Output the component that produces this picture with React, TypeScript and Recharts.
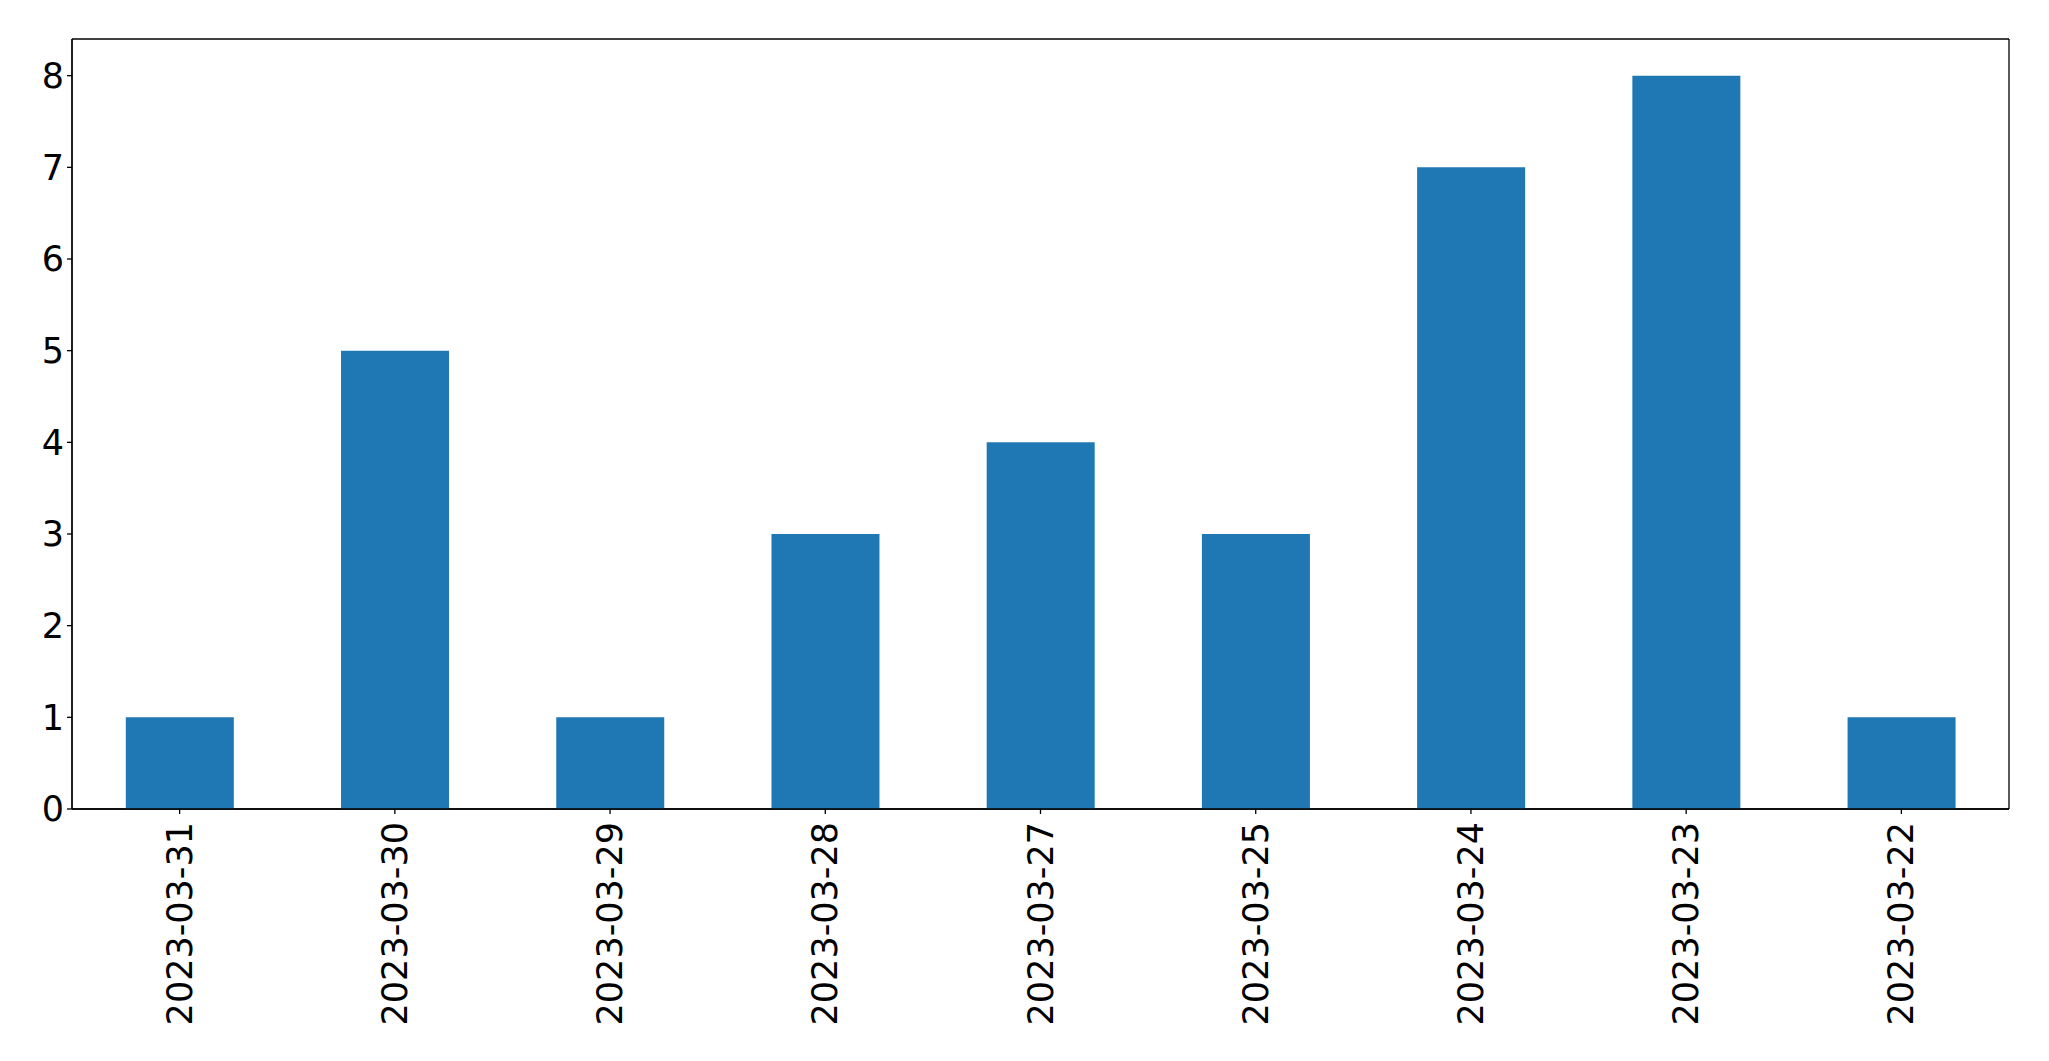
import React from "react";
import { BarChart, Bar, XAxis, YAxis, CartesianGrid } from "recharts";

const dates = [
  "2023-03-31",
  "2023-03-30",
  "2023-03-29",
  "2023-03-28",
  "2023-03-27",
  "2023-03-25",
  "2023-03-24",
  "2023-03-23",
  "2023-03-22",
];
const counts = [1, 5, 1, 3, 4, 3, 7, 8, 1];
const yTicks = [0, 1, 2, 3, 4, 5, 6, 7, 8];

const data = dates.map((d, i) => ({ date: d, count: counts[i] }));

const FONT = "DejaVu Sans";

const DateTick = (props: any) => {
  const { x, y, payload } = props;
  return (
    <text
      x={x}
      y={y}
      transform={`rotate(-90, ${x}, ${y})`}
      textAnchor="end"
      dominantBaseline="central"
      fontFamily={FONT}
      fontSize={35}
      fill="#000"
    >
      {payload.value}
    </text>
  );
};

// frame lines along the plot area's edges
const frameRows = ({ offset }: any) => [offset.top, offset.top + offset.height];
const frameCols = ({ offset }: any) => [offset.left, offset.left + offset.width];

const App: React.FC = () => {
  return (
    <div style={{ position: "absolute", left: 0, top: 0, background: "#fff" }}>
      <BarChart
        width={2049}
        height={1061}
        data={data}
        barCategoryGap="25%"
        margin={{ top: 39, right: 40, left: 12, bottom: 12 }}
      >
        <CartesianGrid
          stroke="#000"
          strokeWidth={1.3}
          horizontalCoordinatesGenerator={frameRows}
          verticalCoordinatesGenerator={frameCols}
        />
        <XAxis
          dataKey="date"
          interval={0}
          height={240}
          stroke="#000"
          strokeWidth={1.3}
          tickSize={5}
          tickMargin={8}
          tick={<DateTick />}
        />
        <YAxis
          type="number"
          domain={[0, 8.4]}
          ticks={yTicks}
          width={60}
          stroke="#000"
          strokeWidth={1.3}
          tickSize={5}
          tickMargin={3}
          tick={{ fontFamily: FONT, fontSize: 35, fill: "#000" }}
        />
        <Bar dataKey="count" fill="#1f77b4" isAnimationActive={false} />
      </BarChart>
    </div>
  );
};

export default App;
